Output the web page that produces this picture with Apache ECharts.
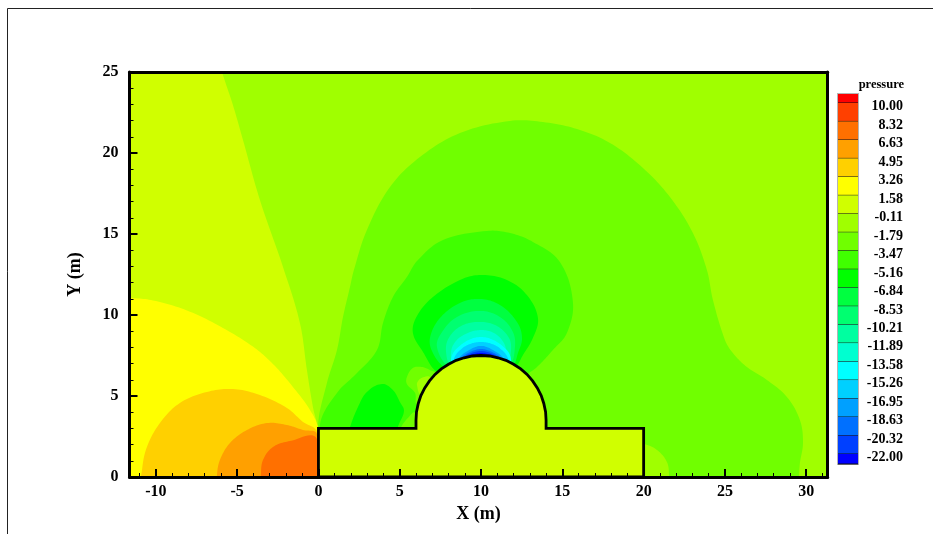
<!DOCTYPE html>
<html><head><meta charset="utf-8">
<style>html,body{margin:0;padding:0;background:#fff}#c{width:933px;height:534px}</style>
<script src="https://cdn.jsdelivr.net/npm/echarts@6/dist/echarts.min.js"></script>
</head><body><div id="c"></div>
<script>
const xMajor=[-10,-5,0,5,10,15,20,25,30];
const yMajor=[0,5,10,15,20,25];
const xMinor=[-11,-10,-9,-8,-7,-6,-5,-4,-3,-2,-1,0,1,2,3,4,5,6,7,8,9,10,11,12,13,14,15,16,17,18,19,20,21,22,23,24,25,26,27,28,29,30,31];
const yMinor=[0,1,2,3,4,5,6,7,8,9,10,11,12,13,14,15,16,17,18,19,20,21,22,23,24,25];
const legendLevels=[10,8.32,6.63,4.95,3.26,1.58,-0.11,-1.79,-3.47,-5.16,-6.84,-8.53,-10.21,-11.89,-13.58,-15.26,-16.95,-18.63,-20.32,-22];
const legendColors=['#ff0000','#ff4000','#ff7000','#ffa000','#ffd000','#ffff00','#d0ff00','#a0ff00','#70ff00','#40ff00','#00ff00','#00ff40','#00ff70','#00ffa0','#00ffd0','#00ffff','#00d0ff','#00a0ff','#0070ff','#0040ff','#0000ff'];

const bandLeft=[[-6.30,26.36],[-5.93,25],[-5.26,22.96],[-4.64,20.80],[-3.60,17.10],[-2.18,12.96],[-1.14,9.51],[-0.71,6.60],[-0.34,4.32],[-0.03,2.90],[0.22,-1.42],[-13.44,-1.42],[-13.44,26.36]];
const bandYellow=[[-13.44,11.11],[-11.59,11.05],[-10.18,10.90],[-8.09,10.28],[-6.06,9.30],[-4.03,8.05],[-2.80,6.98],[-1.57,5.56],[-0.52,4.14],[-0.03,3.02],[0.40,-1.42],[-13.44,-1.42]];
const bandAmber=[[-10.98,-2.04],[-10.85,0.43],[-10.55,1.85],[-9.75,3.33],[-8.52,4.57],[-6.86,5.25],[-5.26,5.43],[-3.60,5.06],[-1.94,4.26],[-0.95,3.40],[-0.09,2.78],[0.40,-2.04]];
const bandOrange=[[-6.30,-2.04],[-6.24,0.12],[-6.06,1.05],[-5.44,2.10],[-4.40,2.90],[-3.17,3.33],[-1.94,3.21],[-0.95,2.90],[-0.09,2.65],[0.40,-2.04]];
const bandDeepOrange=[[-3.60,-2.04],[-3.54,0.12],[-3.41,1.05],[-2.80,1.85],[-1.75,2.22],[-0.09,2.35],[0.40,-2.04]];
const domeOuter=[[-0.03,3.02],[0.52,5.80],[1.14,7.84],[1.51,9.88],[1.94,11.73],[2.18,12.78],[2.98,15.25],[4.40,17.90],[6.24,19.75],[8.70,21.23],[11.78,21.98],[13.81,21.91],[15.90,21.48],[17.93,20.62],[19.96,19.07],[21.62,17.28],[23.03,15.06],[23.89,12.78],[24.26,10.93],[25.0,8.46],[25.49,7.65],[26.35,6.79],[27.58,5.99],[28.81,4.94],[29.61,3.52],[29.80,2.10],[29.61,0.86],[29.55,-0.06],[29.49,-2.04],[1.32,-2.04],[0.40,0.43]];
const patchRight=[[19.46,2.04],[20.02,2.04],[20.82,1.67],[21.43,0.93],[21.56,0.12],[21.56,-2.04],[19.46,-2.04]];
const domeMiddle=[[0.09,3.21],[1.14,5.19],[2.37,6.42],[3.60,7.84],[3.97,9.51],[4.58,11.11],[5.44,12.35],[6.12,13.40],[7.66,14.63],[10.36,15.19],[11.78,15.06],[13.19,14.51],[14.85,13.27],[15.65,10.80],[15.28,8.89],[14.42,7.84],[13.44,6.79],[12.70,6.23],[11.16,4.75],[6.24,2.28],[0.71,2.28]];
const lobeCentral=[[7.29,6.48],[6.43,7.72],[5.81,8.89],[6.06,9.94],[7.04,11.11],[8.70,12.16],[9.99,12.47],[11.59,12.16],[12.82,11.23],[13.50,9.81],[13.19,8.58],[12.58,7.53],[12.08,6.73],[9.99,5.06]];
const lobeRoof=[[1.63,1.98],[1.94,3.09],[2.43,4.32],[2.98,5.25],[3.91,5.74],[4.58,5.37],[5.01,4.63],[5.26,4.07],[4.89,3.09],[4.70,1.98]];
const islandOuter=[[5.44,6.17],[5.81,6.73],[6.37,6.79],[6.86,6.60],[7.29,6.30],[6.86,5.06],[6.12,4.44],[5.94,5.19],[5.44,5.74]];
const islandInner=[[6.06,5.68],[6.18,5.99],[6.49,6.17],[6.86,6.17],[6.98,5.68],[6.37,5.06]];
const cornerWedge=[[5.07,3.02],[5.50,3.64],[5.94,3.95],[6.24,2.28],[5.01,2.28]];
const ring1=[[7.78,6.73],[7.04,7.65],[6.86,8.58],[7.47,9.81],[8.70,10.74],[9.93,10.99],[11.16,10.62],[12.21,9.57],[12.52,8.58],[12.27,7.65],[11.90,6.73],[9.99,5.37]];
const ring2=[[8.03,6.73],[7.29,8.02],[7.60,8.95],[8.52,9.88],[9.93,10.25],[11.16,9.88],[11.96,8.95],[12.08,7.96],[11.78,6.91],[9.99,5.37]];
const ring3=[[8.21,6.73],[7.84,7.84],[8.09,8.70],[8.89,9.38],[10.0,9.57],[10.98,9.32],[11.72,8.58],[11.84,7.78],[11.59,6.91],[10.0,5.68]];
const ring4=[[8.40,6.73],[8.15,7.65],[8.46,8.40],[9.19,8.89],[10.0,9.07],[10.79,8.89],[11.41,8.27],[11.53,7.59],[11.35,6.85],[10.0,5.68]];
const ring5=[[8.30,6.73],[8.20,7.47],[8.70,8.10],[9.38,8.52],[10.0,8.64],[10.61,8.52],[11.30,8.10],[11.80,7.47],[11.70,6.73],[10.0,5.68]];
const ring6=[[8.40,6.85],[8.35,7.35],[8.85,7.95],[9.44,8.25],[10.0,8.33],[10.56,8.25],[11.15,7.95],[11.65,7.35],[11.60,6.85],[10.0,5.99]];
const ring7=[[8.58,7.0],[8.65,7.35],[9.2,7.8],[10.0,8.09],[10.8,7.8],[11.35,7.35],[11.42,7.0],[10.0,6.30]];
const ring8=[[8.70,7.0],[8.82,7.38],[9.4,7.75],[10.0,7.90],[10.6,7.75],[11.18,7.38],[11.3,7.0],[10.0,6.30]];
const ring9=[[8.89,7.1],[9.0,7.42],[9.5,7.68],[10.0,7.78],[10.5,7.68],[11.0,7.42],[11.11,7.1],[10.0,6.30]];
const ring10=[[9.14,7.1],[9.2,7.47],[9.6,7.6],[10.0,7.65],[10.4,7.6],[10.8,7.47],[10.86,7.1],[10.0,6.30]];
const buildingOutline=[[0,0],[0,3],[6,3],[6,3.5],[6.03,4.02],[6.14,4.54],[6.30,5.03],[6.54,5.5],[6.83,5.93],[7.17,6.33],[7.56,6.67],[8,6.96],[8.47,7.2],[8.96,7.36],[9.48,7.47],[10,7.5],[10.52,7.47],[11.04,7.36],[11.53,7.2],[12,6.96],[12.44,6.67],[12.83,6.33],[13.17,5.93],[13.46,5.5],[13.7,5.03],[13.86,4.54],[13.97,4.02],[14,3.5],[14,3],[20,3],[20,0]];

const bands=[
 [bandLeft,'#d0ff00'],[bandYellow,'#ffff00'],[bandAmber,'#ffd000'],[bandOrange,'#ffa000'],[bandDeepOrange,'#ff7000'],
 [domeOuter,'#70ff00'],[patchRight,'#a0ff00'],[domeMiddle,'#40ff00'],[lobeCentral,'#00ff00'],[lobeRoof,'#00ff00'],
 [islandOuter,'#70ff00'],[islandInner,'#a0ff00'],[cornerWedge,'#70ff00'],
 [ring1,'#00ff40'],[ring2,'#00ff70'],[ring3,'#00ffa0'],[ring4,'#00ffd0'],[ring5,'#00ffff'],[ring6,'#00d0ff'],[ring7,'#00a0ff'],[ring8,'#0070ff'],[ring9,'#0040ff'],[ring10,'#0000ff']
];
const serif='"Liberation Serif","Times New Roman",serif';
const legendTop=10.82, legendBottom=-22.91, legendLabelShift=0.34;
const legendEdges=[legendTop].concat(legendLevels,[legendBottom]);

// Rounds a closed outline of screen points into a curve through those same points.
function roundedOutline(pts){
  const n=pts.length,out=[],handle=0.36,steps=12;
  const tan=i=>{
    const a=pts[(i+n-1)%n],b=pts[(i+1)%n];
    const dx=b[0]-a[0],dy=b[1]-a[1],d=Math.hypot(dx,dy)||1;
    return [dx/d,dy/d];
  };
  for(let i=0;i<n;i++){
    const p=pts[i],q=pts[(i+1)%n],t0=tan(i),t1=tan((i+1)%n);
    const L=Math.hypot(q[0]-p[0],q[1]-p[1])*handle;
    const c1=[p[0]+t0[0]*L,p[1]+t0[1]*L],c2=[q[0]-t1[0]*L,q[1]-t1[1]*L];
    for(let k=0;k<steps;k++){
      const u=k/steps,v=1-u;
      out.push([
        v*v*v*p[0]+3*v*v*u*c1[0]+3*v*u*u*c2[0]+u*u*u*q[0],
        v*v*v*p[1]+3*v*v*u*c1[1]+3*v*u*u*c2[1]+u*u*u*q[1]
      ]);
    }
  }
  return out;
}

const chart=echarts.init(document.getElementById('c'),null,{renderer:'canvas'});
const xMin=-11.62,xMax=31.32,yMin=0,yMax=25;
const baseX={gridIndex:0,type:'value',min:xMin,max:xMax,splitLine:{show:false}};
const baseY={gridIndex:0,type:'value',min:yMin,max:yMax,splitLine:{show:false}};
const frameLine={show:true,onZero:false,lineStyle:{color:'#000',width:3}};
chart.setOption({
 animation:false,
 backgroundColor:'#fff',
 grid:[
  {left:129.5,right:105.3,top:72,bottom:57,show:true,backgroundColor:'#a0ff00',borderWidth:0},
  {left:838,width:20,top:94,height:370,show:true,backgroundColor:'transparent',borderColor:'#b4b4b4',borderWidth:2}
 ],
 xAxis:[
  {...baseX,position:'bottom',z:10,axisLine:frameLine,
   axisTick:{show:true,inside:true,length:8,lineStyle:{color:'#000',width:2},customValues:xMajor},
   axisLabel:{customValues:xMajor,margin:7,color:'#000',fontFamily:serif,fontWeight:'bold',fontSize:16},
   name:'X (m)',nameLocation:'middle',nameGap:22,nameTextStyle:{color:'#000',fontFamily:serif,fontWeight:'bold',fontSize:18}},
  {...baseX,position:'bottom',z:9,axisLine:{show:false,onZero:false},
   axisTick:{show:true,inside:true,length:4,lineStyle:{color:'#000',width:1},customValues:xMinor},axisLabel:{show:false}},
  {gridIndex:1,type:'value',min:0,max:1,show:false},
  {...baseX,position:'top',z:10,axisLine:frameLine,axisTick:{show:false},axisLabel:{show:false}}
 ],
 yAxis:[
  {...baseY,position:'left',z:10,axisLine:frameLine,
   axisTick:{show:true,inside:true,length:8,lineStyle:{color:'#000',width:2},customValues:yMajor},
   axisLabel:{customValues:yMajor,margin:11,color:'#000',fontFamily:serif,fontWeight:'bold',fontSize:16},
   name:'Y (m)',nameLocation:'middle',nameGap:45,nameRotate:90,nameTextStyle:{color:'#000',fontFamily:serif,fontWeight:'bold',fontSize:18}},
  {...baseY,position:'left',z:9,axisLine:{show:false,onZero:false},
   axisTick:{show:true,inside:true,length:4,lineStyle:{color:'#000',width:1},customValues:yMinor},axisLabel:{show:false}},
  {gridIndex:1,type:'value',min:legendBottom,max:legendTop,show:false},
  {...baseY,position:'right',z:10,axisLine:frameLine,axisTick:{show:false},axisLabel:{show:false}},
  {gridIndex:1,type:'value',min:legendBottom+legendLabelShift,max:legendTop+legendLabelShift,position:'right',splitLine:{show:false},axisLine:{show:false},axisTick:{show:false},
   axisLabel:{customValues:legendLevels,margin:45,align:'right',color:'#000',fontFamily:serif,fontWeight:'bold',fontSize:14,formatter:v=>v.toFixed(2)}}
 ],
 series:[
  {type:'custom',name:'contours',xAxisIndex:0,yAxisIndex:0,clip:true,silent:true,z:2,
   data:bands.map((b,i)=>[i]),
   renderItem(p,api){
     const b=bands[api.value(0)];
     return {type:'polygon',shape:{points:roundedOutline(b[0].map(q=>api.coord(q)))},style:{fill:b[1]}};
   }},
  {type:'custom',name:'building',xAxisIndex:0,yAxisIndex:0,clip:true,silent:true,z:3,
   data:[[0]],
   renderItem(p,api){
     return {type:'polygon',shape:{points:buildingOutline.map(q=>api.coord(q))},style:{fill:'#d0ff00',stroke:'#000',lineWidth:2.8}};
   }},
  {type:'custom',name:'legend',xAxisIndex:2,yAxisIndex:2,silent:true,z:3,
   data:legendColors.map((c,i)=>[i]),
   renderItem(p,api){
     const i=api.value(0);
     const a=api.coord([0,legendEdges[i]]),b=api.coord([1,legendEdges[i+1]]);
     return {type:'group',children:[
       {type:'rect',shape:{x:a[0],y:a[1],width:b[0]-a[0],height:b[1]-a[1]},style:{fill:legendColors[i]}},
       {type:'line',shape:{x1:a[0],y1:b[1],x2:b[0],y2:b[1]},style:{stroke:'#111',lineWidth:1}}
     ]};
   }}
 ],
 graphic:[
  {type:'line',silent:true,shape:{x1:7.5,y1:8.5,x2:933,y2:8.5},style:{stroke:'#222',lineWidth:1}},
  {type:'line',silent:true,shape:{x1:7.5,y1:8.5,x2:7.5,y2:534},style:{stroke:'#222',lineWidth:1}},
  {type:'text',silent:true,x:904,y:85,style:{text:'pressure',align:'right',verticalAlign:'middle',fill:'#000',font:'bold 12.5px '+serif}}
 ]
});
</script></body></html>
